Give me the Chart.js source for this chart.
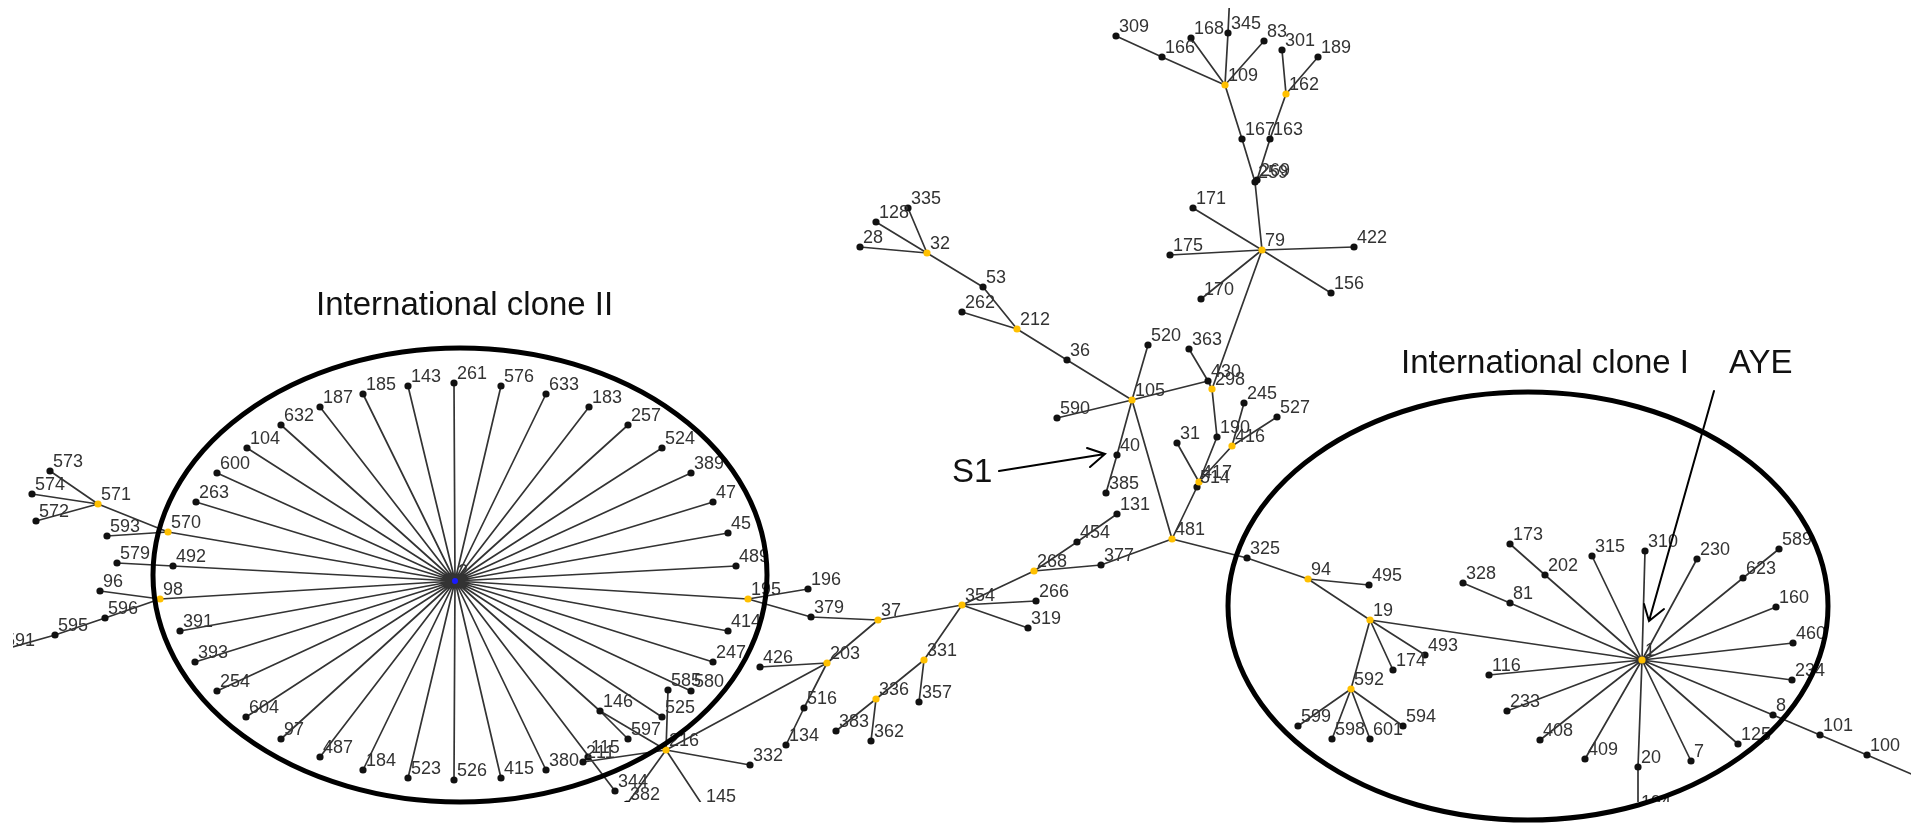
<!DOCTYPE html>
<html>
<head>
<meta charset="utf-8">
<script src="https://cdn.jsdelivr.net/npm/chart.js@4.4.1/dist/chart.umd.min.js"></script>
<style>
  html,body{margin:0;padding:0;background:#fff;overflow:hidden}
  #wrap{position:relative;width:1916px;height:827px}
</style>
</head>
<body>
<div id="wrap"><canvas id="mst"></canvas></div>
<script>
// node layout (x right, y down)
const nodeLabels=['2','261','143','185','187','632','104','600','263','570','492','98','391','393','254','604','97','487','184','523','526','415','380','211','115','344','146','597','525','580','585','247','414','195','489','45','47','389','524','257','183','633','576',
  '573','574','572','571','593','579','96','596','595','591',
  '216','382','145','332',
  '37','379','196','426','203','516','134','354','331','357','336','383','362','268','266','319','377','454','131','481','514','417','31','190','416','245','527','298','430','363','105','520','590','40','385','36','212','53','262','32','28','128','335',
  '79','171','175','422','156','170','259','269','167','163','109','162','309','166','168','345','83','301','189','x1',
  '325','94','495','19','493','174','592','599','598','601','594','1','173','202','328','81','315','310','230','589','623','160','460','234','8','101','100','x2','125','7','20','194','409','408','233','116'];
const nodeX=[455,454,408,363,320,281,247,217,196,168,173,160,180,195,217,246,281,320,363,408,454,501,546,583,588,615,600,628,662,691,668,713,728,748,736,728,713,691,662,628,589,546,501,
  50,32,36,98,107,117,100,105,55,2,
  666,627,703,750,
  878,811,808,760,827,804,786,962,924,919,876,836,871,1034,1036,1028,1101,1077,1117,1172,1197,1199,1177,1217,1232,1244,1277,1212,1208,1189,1132,1148,1057,1117,1106,1067,1017,983,962,927,860,876,908,
  1262,1193,1170,1354,1331,1201,1255,1257,1242,1270,1225,1286,1116,1162,1191,1228,1264,1282,1318,1231,
  1247,1308,1369,1370,1425,1393,1351,1298,1332,1370,1403,1642,1510,1545,1463,1510,1592,1645,1697,1779,1743,1776,1793,1792,1773,1820,1867,1960,1738,1691,1638,1638,1585,1540,1507,1489];
const nodeY=[581,383,386,394,407,425,448,473,502,532,566,599,631,662,691,717,739,757,770,778,780,778,770,762,757,791,711,739,717,691,690,662,631,599,566,533,502,473,448,425,407,394,386,
  471,494,521,504,536,563,591,618,635,650,
  750,804,806,765,
  620,617,589,667,663,708,745,605,660,702,699,731,741,571,601,628,565,542,514,539,487,482,443,437,446,403,417,389,381,349,400,345,418,455,493,360,329,287,312,253,247,222,208,
  250,208,255,247,293,299,182,180,139,139,85,94,36,57,38,33,41,50,57,-30,
  558,579,585,620,655,670,689,726,739,739,726,660,544,575,583,603,556,551,559,549,578,607,643,680,715,735,755,795,744,761,767,812,759,740,711,675];
// b = black leaf, y = yellow (founder), h = blue hub
const nodeKind=['h','b','b','b','b','b','b','b','b','y','b','y','b','b','b','b','b','b','b','b','b','b','b','b','b','b','b','b','b','b','b','b','b','y','b','b','b','b','b','b','b','b','b',
  'b','b','b','y','b','b','b','b','b','b',
  'y','b','b','b',
  'y','b','b','b','y','b','b','y','y','b','y','b','b','y','b','b','b','b','b','y','b','y','b','b','y','b','b','y','b','b','y','b','b','b','b','b','y','b','b','y','b','b','b',
  'y','b','b','b','b','b','b','b','b','b','y','y','b','b','b','b','b','b','b','b',
  'b','y','b','y','b','b','y','b','b','b','b','y','b','b','b','b','b','b','b','b','b','b','b','b','b','b','b','b','b','b','b','b','b','b','b','b'];
const edges=[
  ['2','261'],['2','143'],['2','185'],['2','187'],['2','632'],['2','104'],['2','600'],['2','263'],['2','570'],['2','492'],['2','98'],['2','391'],['2','393'],['2','254'],['2','604'],['2','97'],['2','487'],['2','184'],['2','523'],['2','526'],['2','415'],['2','380'],['2','344'],['2','146'],['2','525'],['2','580'],['2','247'],['2','414'],['2','195'],['2','489'],['2','45'],['2','47'],['2','389'],['2','524'],['2','257'],['2','183'],['2','633'],['2','576'],
  ['573','571'],['574','571'],['572','571'],['571','570'],['593','570'],['579','492'],['96','98'],['98','596'],['596','595'],['595','591'],
  ['146','597'],['146','216'],['216','585'],['216','211'],['211','115'],['216','382'],['216','145'],['216','332'],['216','203'],
  ['195','196'],['195','379'],['379','37'],['37','203'],['203','426'],['203','516'],['516','134'],['37','354'],['354','331'],['331','357'],['331','336'],['336','383'],['336','362'],['354','266'],['354','319'],['354','268'],['268','454'],['454','131'],['268','377'],['377','481'],
  ['481','105'],['481','514'],['514','417'],['417','31'],['417','190'],['417','416'],['416','245'],['416','527'],['190','298'],['298','430'],['430','363'],['430','105'],['298','79'],
  ['105','520'],['105','590'],['105','40'],['40','385'],['105','36'],['36','212'],['212','262'],['212','53'],['53','32'],['32','28'],['32','128'],['32','335'],
  ['79','171'],['79','175'],['79','422'],['79','156'],['79','170'],['79','259'],['259','269'],['259','167'],['269','163'],['167','109'],['163','162'],['109','166'],['166','309'],['109','168'],['109','345'],['109','83'],['345','x1'],['162','301'],['162','189'],
  ['481','325'],['325','94'],['94','495'],['94','19'],['19','493'],['19','174'],['19','592'],['592','599'],['592','598'],['592','601'],['592','594'],['19','1'],
  ['1','202'],['202','173'],['1','81'],['81','328'],['1','315'],['1','310'],['1','230'],['1','623'],['623','589'],['1','160'],['1','460'],['1','234'],['1','8'],['8','101'],['101','100'],['100','x2'],['1','125'],['1','7'],['1','20'],['20','194'],['1','409'],['1','408'],['1','233'],['1','116']
];

const idx={};
nodeLabels.forEach((l,i)=>idx[l]=i);
const edgePts=[];
edges.forEach(([a,b])=>{
  const i=idx[a],j=idx[b];
  edgePts.push({x:nodeX[i],y:nodeY[i]},{x:nodeX[j],y:nodeY[j]},{x:nodeX[j],y:null});
});
const nodePts=nodeLabels.map((l,i)=>({x:nodeX[i],y:nodeY[i]}));
const KIND_COL={b:'#111',y:'#ffc000',h:'#1a1aff'};
const FONT='"Liberation Sans", Arial, sans-serif';

const labelPlugin={id:'mstLabels',
  afterDatasetsDraw(chart){
    const {ctx,chartArea:a,scales:{x,y}}=chart;
    ctx.save();
    ctx.beginPath();ctx.rect(a.left,a.top,a.right-a.left,a.bottom-a.top);ctx.clip();
    ctx.font='18px '+FONT;ctx.fillStyle='#333';ctx.textAlign='left';ctx.textBaseline='alphabetic';
    nodeLabels.forEach((l,i)=>{
      if(l[0]==='x')return;
      ctx.fillText(l,x.getPixelForValue(nodeX[i])+3,y.getPixelForValue(nodeY[i])-4);
    });
    ctx.restore();
  }};

const notePlugin={id:'mstNotes',
  afterDraw(chart){
    const {ctx,scales:{x,y}}=chart;
    const px=v=>x.getPixelForValue(v), py=v=>y.getPixelForValue(v);
    ctx.save();
    ctx.strokeStyle='#000';ctx.lineWidth=5;
    [[460,575,307,227],[1528,606,300,214]].forEach(([cx,cy,rx,ry])=>{
      ctx.beginPath();
      ctx.ellipse(px(cx),py(cy),Math.abs(px(cx+rx)-px(cx)),Math.abs(py(cy+ry)-py(cy)),0,0,Math.PI*2);
      ctx.stroke();
    });
    ctx.lineWidth=2;ctx.lineCap='round';
    [[[999,471],[1105,454],[1087,448],[1090,467]],[[1714,391],[1649,621],[1644,604],[1664,609]]].forEach(([s,t,a1,a2])=>{
      ctx.beginPath();
      ctx.moveTo(px(s[0]),py(s[1]));ctx.lineTo(px(t[0]),py(t[1]));
      ctx.moveTo(px(a1[0]),py(a1[1]));ctx.lineTo(px(t[0]),py(t[1]));ctx.lineTo(px(a2[0]),py(a2[1]));
      ctx.stroke();
    });
    ctx.fillStyle='#111';ctx.font='33px '+FONT;ctx.textAlign='left';ctx.textBaseline='alphabetic';
    ctx.fillText('International clone II',px(316),py(315));
    ctx.fillText('International clone I',px(1401),py(373));
    ctx.fillText('AYE',px(1729),py(373));
    ctx.fillText('S1',px(952),py(482));
    ctx.restore();
  }};

new Chart(document.getElementById('mst'),{type:'scatter',
  data:{datasets:[
    {type:'line',label:'links',data:edgePts,showLine:true,spanGaps:false,tension:0,
      borderColor:'#333',borderWidth:1.7,pointRadius:0,pointHoverRadius:0,order:2},
    {type:'scatter',label:'STs',data:nodePts,
      pointRadius:nodeKind.map(k=>k==='h'?3:3.6),
      pointBackgroundColor:nodeKind.map(k=>KIND_COL[k]),
      pointBorderWidth:0,order:1}
  ]},
  options:{responsive:true,maintainAspectRatio:false,animation:false,
    layout:{padding:{left:13,top:8,right:5,bottom:25}},
    plugins:{legend:{display:false},tooltip:{enabled:false}},
    scales:{x:{type:'linear',min:13,max:1911,display:false},
            y:{type:'linear',min:8,max:802,reverse:true,display:false}}},
  plugins:[labelPlugin,notePlugin]
});
</script>
</body>
</html>
